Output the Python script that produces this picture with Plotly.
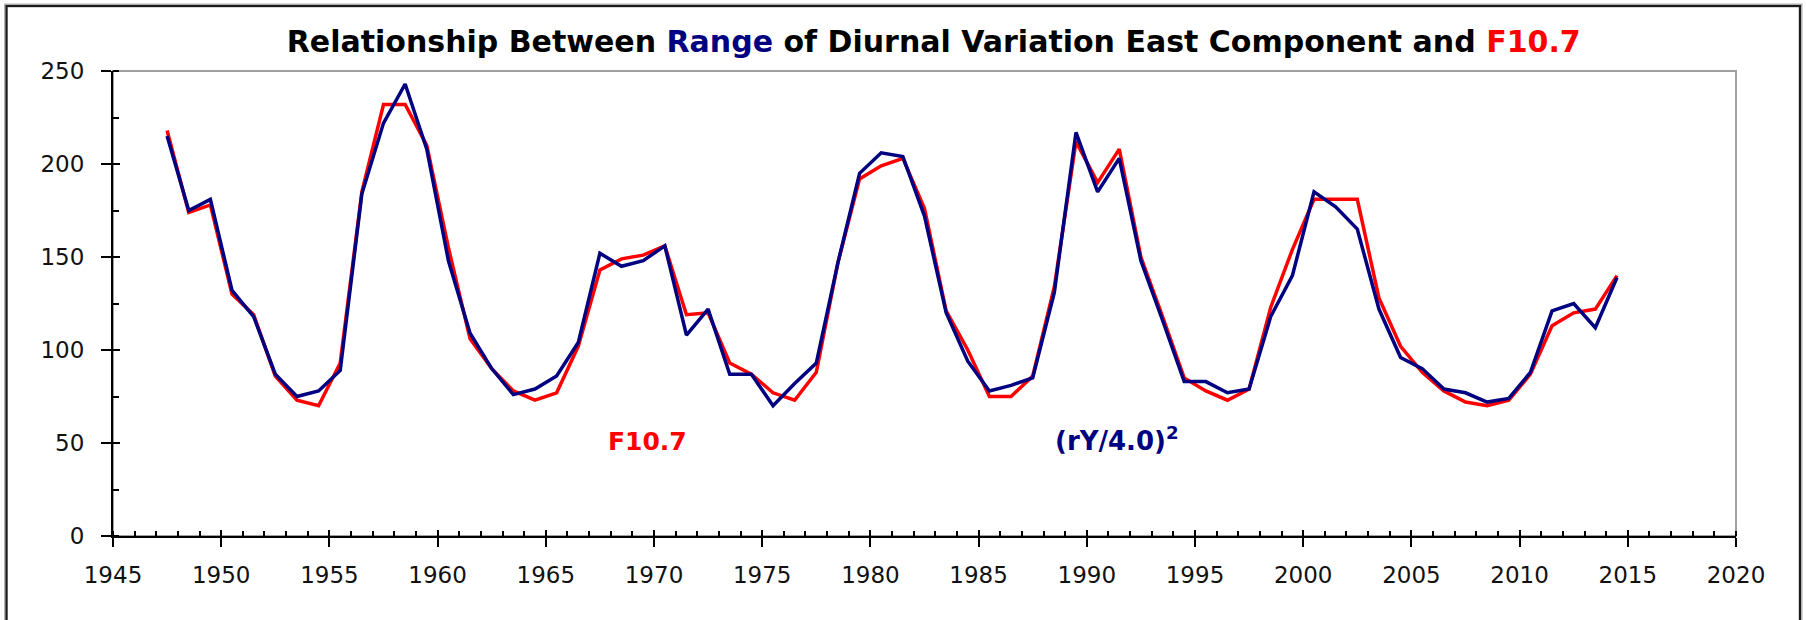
import plotly.graph_objects as go

years = [1947.5, 1948.5, 1949.5, 1950.5, 1951.5, 1952.5, 1953.5, 1954.5, 1955.5, 1956.5,
         1957.5, 1958.5, 1959.5, 1960.5, 1961.5, 1962.5, 1963.5, 1964.5, 1965.5, 1966.5,
         1967.5, 1968.5, 1969.5, 1970.5, 1971.5, 1972.5, 1973.5, 1974.5, 1975.5, 1976.5,
         1977.5, 1978.5, 1979.5, 1980.5, 1981.5, 1982.5, 1983.5, 1984.5, 1985.5, 1986.5,
         1987.5, 1988.5, 1989.5, 1990.5, 1991.5, 1992.5, 1993.5, 1994.5, 1995.5, 1996.5,
         1997.5, 1998.5, 1999.5, 2000.5, 2001.5, 2002.5, 2003.5, 2004.5, 2005.5, 2006.5,
         2007.5, 2008.5, 2009.5, 2010.5, 2011.5, 2012.5, 2013.5, 2014.5]

f107 = [218, 174, 178, 130, 119, 86, 73, 70, 93, 185,
        232, 232, 210, 155, 106, 90, 78, 73, 77, 102,
        143, 149, 151, 156, 119, 120, 93, 87, 77, 73,
        88, 147, 192, 199, 203, 176, 121, 100, 75, 75,
        86, 134, 212, 190, 208, 150, 118, 85, 78, 73,
        79, 123, 154, 181, 181, 181, 128, 102, 88, 78,
        72, 70, 73, 87, 113, 120, 122, 140]

ry_sq = [215, 175, 181, 132, 118, 87, 75, 78, 89, 184,
         222, 243, 208, 148, 109, 90, 76, 79, 86, 104,
         152, 145, 148, 156, 108, 122, 87, 87, 70, 82,
         93, 147, 195, 206, 204, 172, 120, 94, 78, 81,
         85, 131, 217, 185, 203, 148, 116, 83, 83, 77,
         79, 118, 140, 185, 177, 165, 122, 96, 90, 79,
         77, 72, 74, 88, 121, 125, 112, 139]

x_ticks = [1945, 1950, 1955, 1960, 1965, 1970, 1975, 1980, 1985, 1990, 1995, 2000, 2005, 2010, 2015, 2020]
y_ticks = [0, 50, 100, 150, 200, 250]

RED = "#FF0000"
NAVY = "#000080"
TICKFONT = dict(family="DejaVu Sans", size=23, color="#111111")

fig = go.Figure()
fig.add_trace(go.Scatter(x=years, y=f107, mode="lines", line=dict(color=RED, width=3.5),
                         name="F10.7", showlegend=False, hoverinfo="skip"))
fig.add_trace(go.Scatter(x=years, y=ry_sq, mode="lines", line=dict(color=NAVY, width=3.5),
                         name="(rY/4.0)^2", showlegend=False, hoverinfo="skip"))
# helper trace for the overlay axes (inside parts of major ticks)
fig.add_trace(go.Scatter(x=[None], y=[None], xaxis="x2", yaxis="y2", mode="lines",
                         showlegend=False, hoverinfo="skip"))

W, H = 1806, 620
L, R, T, B = 113, 70, 71, 84
pw, ph = W - L - R, H - T - B

def px_x(px):
    return (px - L) / pw

def px_y(py):
    return (H - B - py) / ph

fig.update_layout(
    width=W, height=H,
    margin=dict(l=L, r=R, t=T, b=B, pad=0, autoexpand=False),
    paper_bgcolor="white", plot_bgcolor="white",
    title=dict(
        text="Relationship Between <span style='color:#000080'>Range</span> of Diurnal Variation East Component and <span style='color:#FF0000'>F10.7</span>",
        font=dict(family="DejaVu Sans", size=30, color="black", weight="bold"),
        x=0.517, xanchor="center", xref="container",
        y=1 - 41 / H, yanchor="middle", yref="container",
    ),
    xaxis=dict(
        range=[1945, 2020], tickmode="array", tickvals=x_ticks, ticktext=[str(v) for v in x_ticks],
        ticks="outside", ticklen=9, tickwidth=2, tickcolor="black",
        showline=True, linecolor="black", linewidth=2, showgrid=False, zeroline=False,
        tickfont=TICKFONT, ticklabelstandoff=8,
        minor=dict(ticks="inside", dtick=1, tick0=1945, ticklen=5, tickwidth=1.5, tickcolor="black", showgrid=False),
    ),
    yaxis=dict(
        range=[0, 250], tickmode="array", tickvals=y_ticks, ticktext=[str(v) for v in y_ticks],
        ticks="outside", ticklen=10, tickwidth=2, tickcolor="black",
        showline=True, linecolor="black", linewidth=2, showgrid=False, zeroline=False,
        tickfont=TICKFONT, ticklabelstandoff=12,
        minor=dict(ticks="inside", dtick=25, tick0=0, ticklen=6, tickwidth=1.5, tickcolor="black", showgrid=False),
    ),
    xaxis2=dict(
        range=[1945, 2020], overlaying="x", anchor="y2", side="bottom",
        tickmode="array", tickvals=x_ticks, ticks="inside", ticklen=6, tickwidth=2, tickcolor="black",
        showticklabels=False, showline=False, showgrid=False, zeroline=False,
    ),
    yaxis2=dict(
        range=[0, 250], overlaying="y", anchor="x2", side="left",
        tickmode="array", tickvals=y_ticks, ticks="inside", ticklen=7, tickwidth=2, tickcolor="black",
        showticklabels=False, showline=False, showgrid=False, zeroline=False,
    ),
    shapes=[
        # plot-area grey border (top & right)
        dict(type="rect", xref="paper", yref="paper", x0=0, x1=1, y0=0, y1=1,
             line=dict(color="#A0A0A0", width=2), layer="below"),
        # outer figure frame (open at bottom)
        dict(type="path", xref="paper", yref="paper",
             path=f"M {px_x(6)} {px_y(625)} L {px_x(6)} {px_y(5.5)} L {px_x(1800.5)} {px_y(5.5)} L {px_x(1800.5)} {px_y(625)}",
             line=dict(color="#B0B0B0", width=4)),
        dict(type="path", xref="paper", yref="paper",
             path=f"M {px_x(6.5)} {px_y(625)} L {px_x(6.5)} {px_y(6)} L {px_x(1800)} {px_y(6)} L {px_x(1800)} {px_y(625)}",
             line=dict(color="#1A1A1A", width=2)),
    ],
    annotations=[
        dict(x=1969.7, y=51, xref="x", yref="y", text="F10.7", showarrow=False,
             font=dict(family="DejaVu Sans", size=25, color=RED, weight="bold")),
        dict(x=1991.4, y=52, xref="x", yref="y", text="(rY/4.0)<sup>2</sup>", showarrow=False,
             font=dict(family="DejaVu Sans", size=26, color=NAVY, weight="bold")),
    ],
)

fig.write_html("out.html",
               config={"displayModeBar": False},
               post_script="document.body.style.margin='0';document.body.style.padding='0';document.documentElement.style.overflow='hidden';")
